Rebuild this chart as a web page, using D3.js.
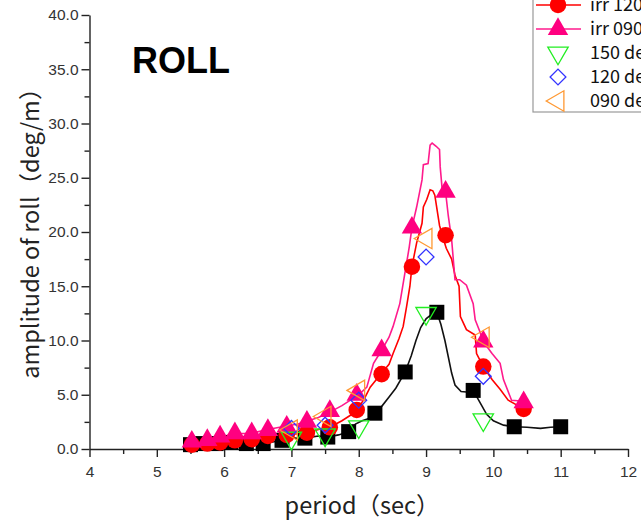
<!DOCTYPE html>
<html>
<head>
<meta charset="utf-8">
<script src="https://cdn.jsdelivr.net/npm/d3@7"></script>
<style>
  body { margin: 0; background: #fff; }
  svg { display: block; }
</style>
</head>
<body>
<div id="chart"></div>
<script>
const margin = {top: 15, right: 13, bottom: 74, left: 89.5}
const W = 641, H = 523
const width = W - margin.left - margin.right
const height = H - margin.top - margin.bottom

// tick values
const xTicks = [4, 5, 6, 7, 8, 9, 10, 11, 12]
const yTicks = [0, 5, 10, 15, 20, 25, 30, 35, 40]

// irregular wave traces (period, amplitude)
const irr150_line_x = [5.5, 5.7, 5.9, 6.1, 6.33, 6.58, 6.86, 7.0, 7.2, 7.4, 7.54, 7.7, 7.85, 7.95, 8.05, 8.15, 8.24, 8.35, 8.45, 8.55, 8.69, 8.78, 8.85, 8.92, 9.0, 9.08, 9.16, 9.22, 9.28, 9.33, 9.38, 9.43, 9.52, 9.6, 9.7, 9.8, 9.9, 10.0, 10.15, 10.31, 10.5, 10.7, 10.85, 11.0]
const irr150_line_y = [0.4, 0.5, 0.5, 0.6, 0.5, 0.5, 0.8, 1.0, 1.0, 1.2, 1.1, 1.3, 1.6, 2.3, 2.6, 2.8, 3.3, 4.0, 4.8, 5.6, 7.1, 8.6, 10.0, 11.2, 12.0, 12.4, 12.6, 11.5, 10.0, 8.5, 7.0, 5.9, 5.3, 5.25, 5.4, 4.3, 3.2, 2.6, 2.2, 2.05, 2.0, 1.9, 2.0, 2.05]

const irr120_line_x = [5.5, 5.75, 5.95, 6.15, 6.4, 6.65, 6.9, 7.1, 7.25, 7.4, 7.57, 7.75, 7.9, 7.97, 8.08, 8.17, 8.34, 8.45, 8.51, 8.6, 8.66, 8.71, 8.76, 8.79, 8.86, 8.94, 8.96, 9.01, 9.06, 9.1, 9.13, 9.2, 9.25, 9.3, 9.38, 9.43, 9.49, 9.51, 9.6, 9.73, 9.75, 9.85, 9.98, 10.1, 10.22, 10.45]
const irr120_line_y = [0.4, 0.5, 0.6, 0.8, 0.9, 1.2, 1.3, 1.4, 1.5, 1.8, 2.0, 2.6, 3.2, 3.6, 4.6, 5.7, 7.0, 7.8, 8.8, 10.2, 11.3, 13.1, 15.0, 16.8, 19.0, 20.8, 22.3, 23.0, 23.9, 23.8, 23.4, 20.6, 19.5, 18.5, 17.5, 16.0, 15.0, 12.2, 11.0, 10.5, 8.8, 7.6, 6.4, 5.5, 4.5, 3.7]

const irr090_line_x = [5.5, 5.75, 5.95, 6.15, 6.4, 6.65, 6.9, 7.1, 7.25, 7.4, 7.57, 7.75, 7.9, 8.0, 8.12, 8.22, 8.34, 8.45, 8.51, 8.61, 8.68, 8.75, 8.79, 8.86, 8.94, 8.96, 9.03, 9.06, 9.09, 9.15, 9.2, 9.21, 9.24, 9.29, 9.33, 9.38, 9.43, 9.5, 9.6, 9.7, 9.73, 9.8, 9.85, 9.98, 10.1, 10.15, 10.27, 10.45]
const irr090_line_y = [0.6, 0.8, 1.1, 1.4, 1.45, 1.8, 2.1, 2.3, 2.6, 2.9, 3.4, 4.0, 4.6, 5.0, 5.7, 7.9, 9.1, 10.3, 11.3, 13.4, 16.0, 18.6, 20.4, 22.3, 24.8, 26.2, 26.3, 28.0, 28.2, 27.9, 27.6, 26.0, 23.9, 23.7, 21.5, 19.3, 15.6, 15.6, 15.1, 13.4, 11.9, 10.8, 9.9, 8.8, 7.9, 6.4, 4.5, 4.4]

// markers
const irr150_x = [5.5, 5.68, 5.88, 6.1, 6.33, 6.58, 6.86, 7.2, 7.54, 7.85, 8.24, 8.69, 9.16, 9.7, 10.31, 11.0]
const irr150_y = [0.4, 0.5, 0.5, 0.6, 0.5, 0.5, 0.8, 1.0, 1.1, 1.6, 3.3, 7.1, 12.6, 5.4, 2.05, 2.05]

const irr_x = [5.52, 5.75, 5.94, 6.16, 6.41, 6.65, 6.93, 7.23, 7.57, 7.97, 8.34, 8.79, 9.29, 9.85, 10.45]
const irr120_y = [0.4, 0.5, 0.6, 0.8, 0.9, 1.2, 1.3, 1.5, 2.0, 3.6, 6.9, 16.8, 19.7, 7.6, 3.7]
const irr090_y = [0.67, 0.83, 1.14, 1.45, 1.45, 1.75, 2.06, 2.5, 3.5, 5.0, 9.1, 20.4, 23.7, 9.9, 4.3]

const reg_x = [7.0, 7.5, 8.0, 9.0, 9.85]
const reg150_y = [1.0, 1.3, 2.05, 12.5, 2.7]
const reg120_y = [1.9, 2.2, 4.5, 17.7, 6.7]
const reg090_y = [1.75, 3.0, 5.4, 19.4, 10.3]

const legendLabels = ["irr 150 deg", "irr 120 deg", "irr 090 deg", "150 deg", "120 deg", "090 deg"]

const zip = (xs, ys) => xs.map((v, i) => ({x: v, y: ys[i]}))

var x = d3.scaleLinear().domain([4, 12]).range([0, width])
var y = d3.scaleLinear().domain([0, 40]).range([height, 0])

var svg = d3.select("#chart")
  .append("svg")
  .attr("width", W)
  .attr("height", H)
  .append("g")
  .attr("transform", "translate(" + margin.left + "," + margin.top + ")")

// minor ticks
svg.append("g")
  .attr("transform", "translate(0," + height + ")")
  .call(d3.axisBottom(x).tickValues(d3.range(4.5, 12, 1)).tickSize(5).tickFormat(""))
  .call(g => g.select(".domain").remove())
svg.append("g")
  .call(d3.axisLeft(y).tickValues(d3.range(2.5, 40, 5)).tickSize(5).tickFormat(""))
  .call(g => g.select(".domain").remove())

// major axes
svg.append("g")
  .attr("class", "xaxis")
  .attr("transform", "translate(0," + height + ")")
  .call(d3.axisBottom(x).tickValues(xTicks).tickSize(8).tickSizeOuter(0).tickPadding(9).tickFormat(d3.format("d")))
svg.append("g")
  .attr("class", "yaxis")
  .call(d3.axisLeft(y).tickValues(yTicks).tickSize(8).tickSizeOuter(0).tickPadding(3).tickFormat(d3.format(".1f")))

svg.selectAll(".tick line, .domain").attr("stroke", "#222").attr("stroke-width", 1.4)
svg.selectAll(".xaxis text, .yaxis text")
  .style("font", "15.5px 'Liberation Sans', Arial, sans-serif")
  .style("fill", "#333")

// axis titles
svg.append("text")
  .attr("x", x(8.05))
  .attr("y", height + 65)
  .attr("text-anchor", "middle")
  .style("font", "23.5px 'Noto Sans CJK JP', sans-serif")
  .style("fill", "#222")
  .text("period（sec）")

svg.append("text")
  .attr("transform", "translate(" + (-margin.left + 39) + "," + y(20.4) + ") rotate(-90)")
  .attr("text-anchor", "middle")
  .style("font", "23.5px 'Noto Sans CJK JP', sans-serif")
  .style("fill", "#222")
  .text("amplitude of roll（deg/m）")

svg.append("text")
  .attr("x", x(4.63))
  .attr("y", y(34.7))
  .style("font", "bold 36px 'Liberation Sans', Arial, sans-serif")
  .style("fill", "#000")
  .text("ROLL")

// lines
const line = d3.line().x(d => x(d.x)).y(d => y(d.y))
const traces = [
  {data: zip(irr150_line_x, irr150_line_y), color: "#111"},
  {data: zip(irr120_line_x, irr120_line_y), color: "#ff0000"},
  {data: zip(irr090_line_x, irr090_line_y), color: "#ff1a8c"}
]
traces.forEach(t => {
  svg.append("path")
    .datum(t.data)
    .attr("fill", "none")
    .attr("stroke", t.color)
    .attr("stroke-width", 1.6)
    .attr("d", line)
})

// marker symbols
const sqSym = d3.symbol().type(d3.symbolSquare).size(225)
const circSym = d3.symbol().type(d3.symbolCircle).size(215)
const triSym = d3.symbol().type(d3.symbolTriangle).size(180)
const diaSym = d3.symbol().type(d3.symbolSquare).size(125)

function drawMarks(data, sym, fill, stroke, rot) {
  svg.append("g").selectAll("path")
    .data(data)
    .join("path")
    .attr("d", sym)
    .attr("transform", d => "translate(" + x(d.x) + "," + y(d.y) + ") rotate(" + rot + ")")
    .attr("fill", fill)
    .attr("stroke", stroke)
    .attr("stroke-width", 1.3)
}

drawMarks(zip(irr150_x, irr150_y), sqSym, "#000", "none", 0)
drawMarks(zip(irr_x, irr120_y), circSym, "#ff0000", "none", 0)
drawMarks(zip(irr_x, irr090_y), triSym, "#ff0080", "none", 0)
drawMarks(zip(reg_x, reg150_y), triSym, "none", "#22ee22", 180)
drawMarks(zip(reg_x, reg120_y), diaSym, "none", "#3333ff", 45)
drawMarks(zip(reg_x, reg090_y), triSym, "none", "#ff9933", -90)

// legend (top clipped by page edge, as in the source)
const lg = d3.select("svg").append("g").attr("transform", "translate(533,-43)")
lg.append("rect")
  .attr("x", 0).attr("y", 0)
  .attr("width", 140).attr("height", 155)
  .attr("fill", "#fff")
  .attr("stroke", "#999")
  .attr("stroke-width", 1.2)

const legendItems = [
  {sym: sqSym, fill: "#000", stroke: "none", rot: 0, line: "#111"},
  {sym: circSym, fill: "#ff0000", stroke: "none", rot: 0, line: "#ff0000"},
  {sym: triSym, fill: "#ff0080", stroke: "none", rot: 0, line: "#ff1a8c"},
  {sym: triSym, fill: "none", stroke: "#22ee22", rot: 180, line: null},
  {sym: diaSym, fill: "none", stroke: "#3333ff", rot: 45, line: null},
  {sym: triSym, fill: "none", stroke: "#ff9933", rot: -90, line: null}
]
legendItems.forEach((d, i) => {
  const ry = 24 + i * 24
  if (d.line) {
    lg.append("line")
      .attr("x1", 3).attr("x2", 48)
      .attr("y1", ry).attr("y2", ry)
      .attr("stroke", d.line).attr("stroke-width", 1.6)
  }
  lg.append("path")
    .attr("d", d.sym)
    .attr("transform", "translate(25," + ry + ") rotate(" + d.rot + ")")
    .attr("fill", d.fill)
    .attr("stroke", d.stroke)
    .attr("stroke-width", 1.3)
  lg.append("text")
    .attr("x", 57)
    .attr("y", ry + 6)
    .style("font", "18px 'Noto Sans CJK JP', sans-serif")
    .style("fill", "#111")
    .text(legendLabels[i])
})
</script>
</body>
</html>
